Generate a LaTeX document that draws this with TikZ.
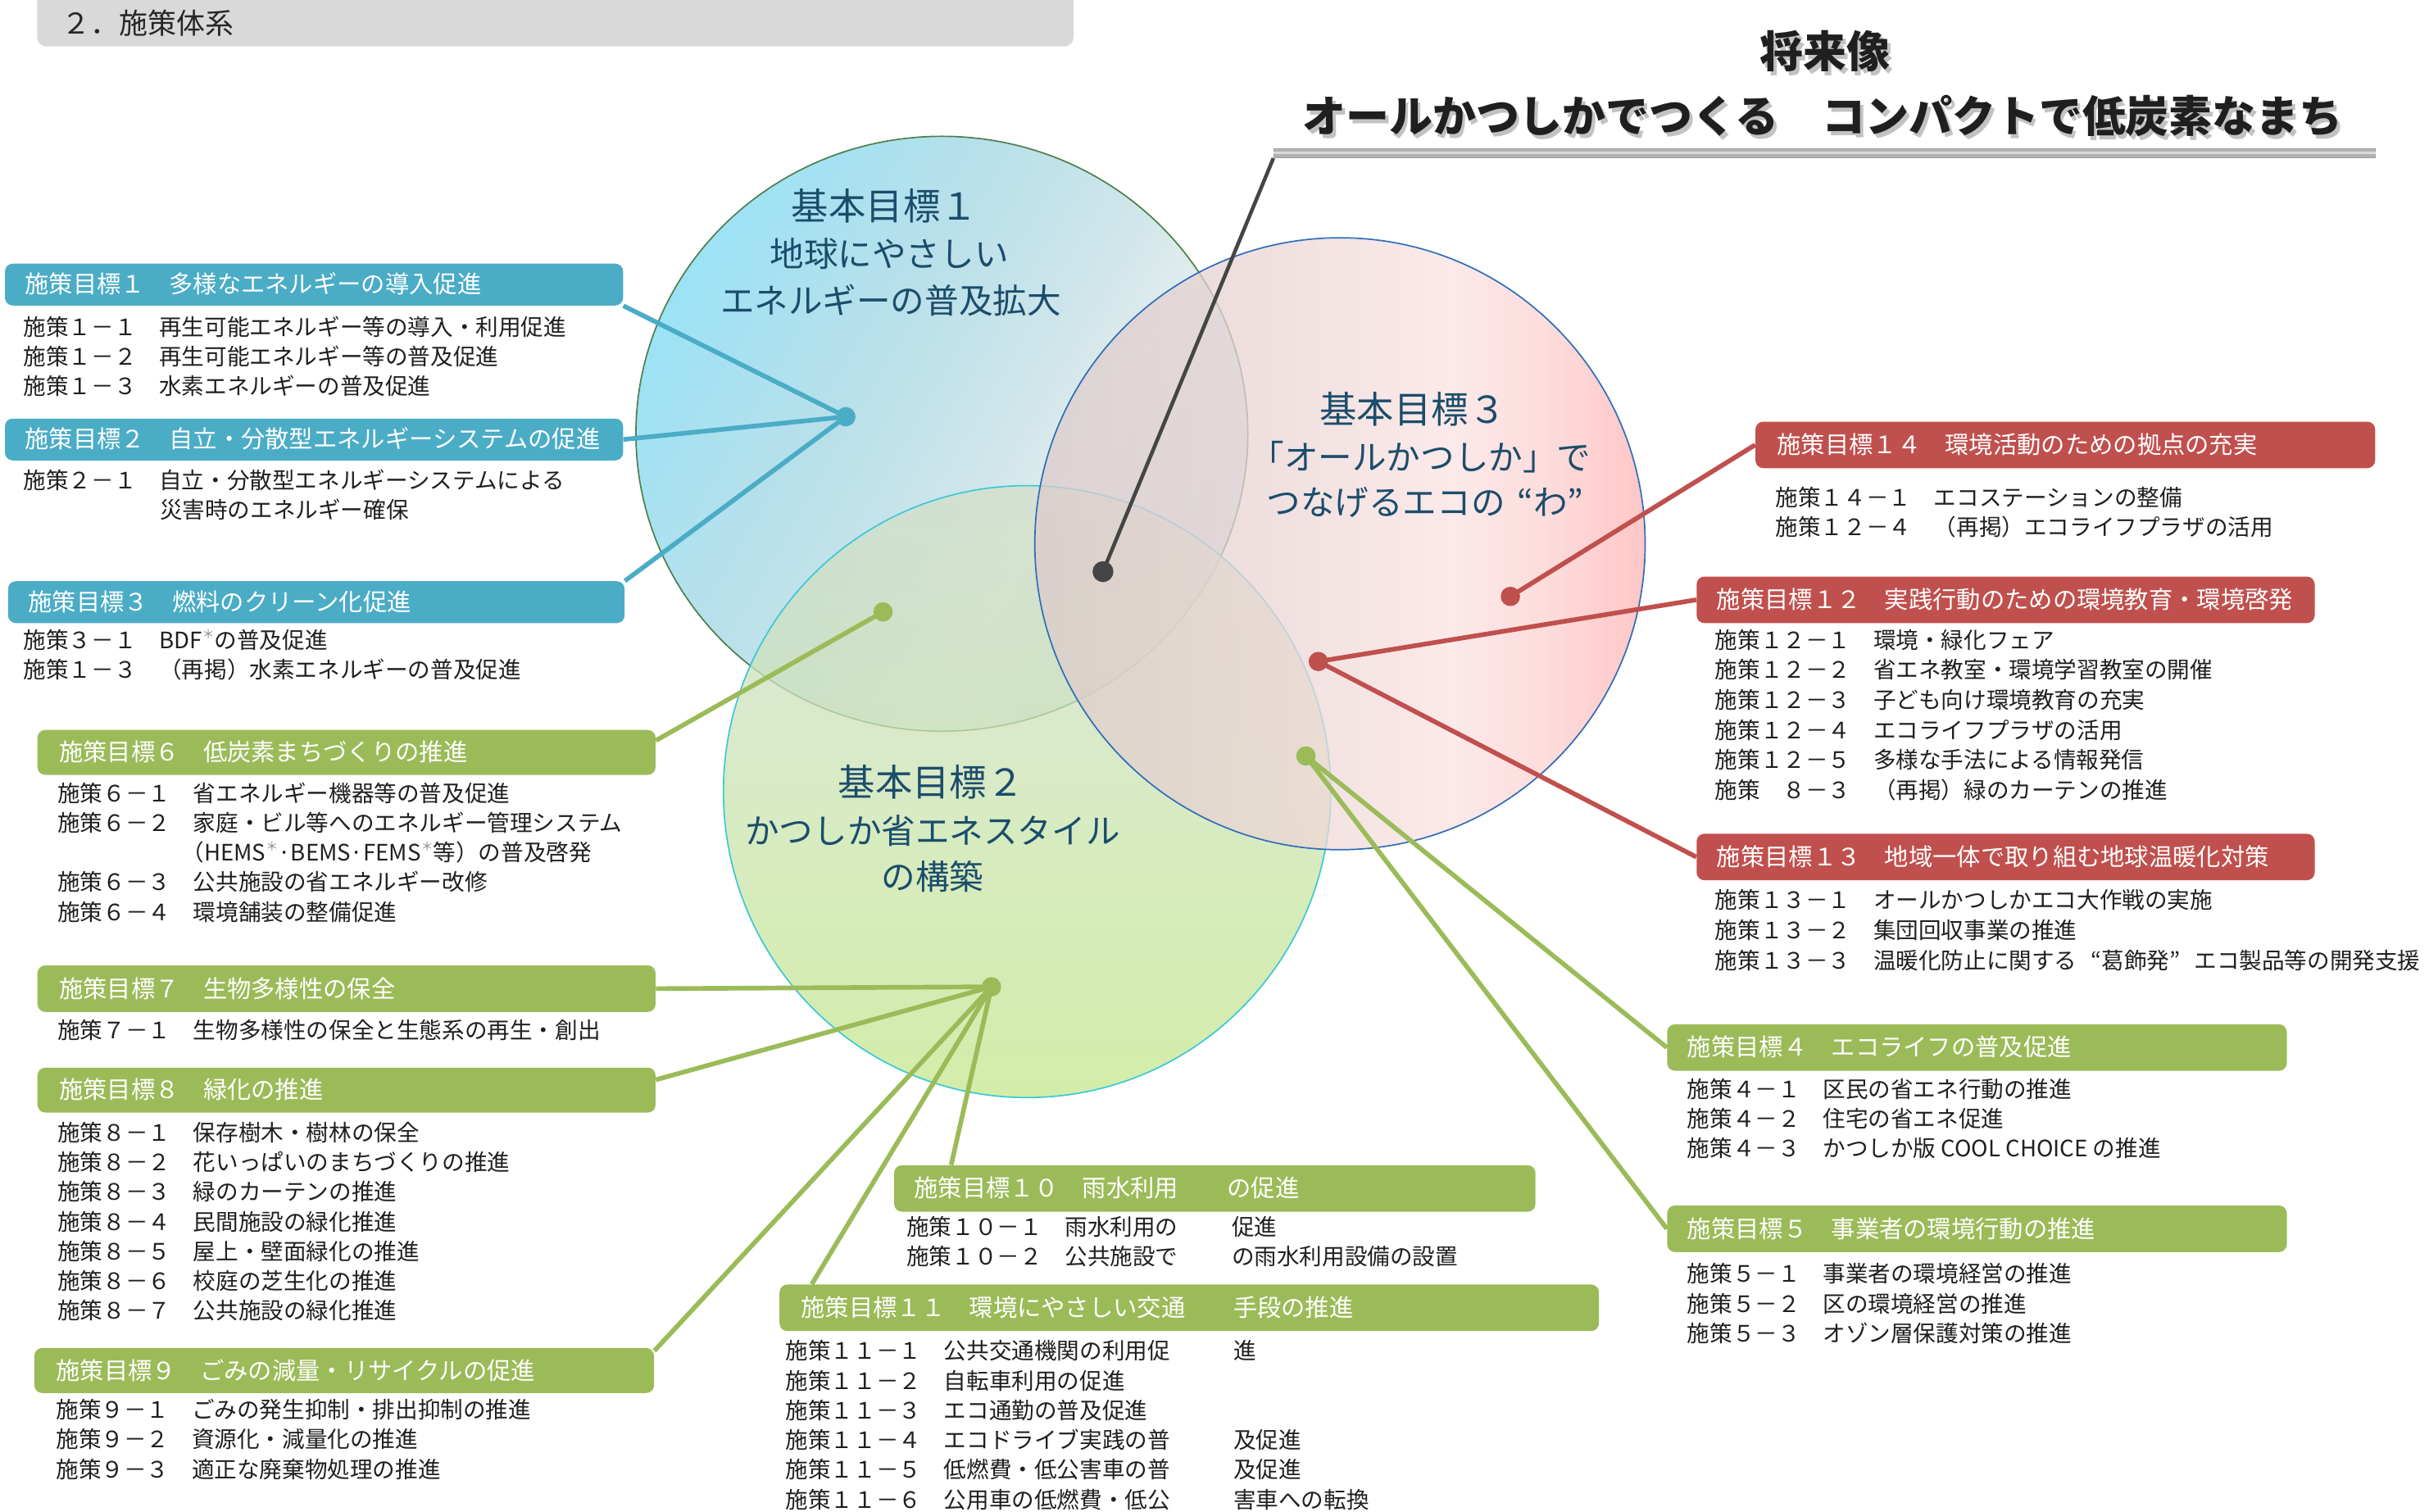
\documentclass[tikz,border=0pt]{standalone}
\usepackage{fontspec}
\setmainfont{Noto Sans CJK JP}
\definecolor{bxblue}{HTML}{4BACC6}
\definecolor{bxgreen}{HTML}{9BBB59}
\definecolor{bxred}{HTML}{C0504D}
\definecolor{hdgray}{HTML}{D9D9D9}
\definecolor{goaltxt}{HTML}{1B4D6B}
\definecolor{c1a}{HTML}{9CE2F5}
\definecolor{c1b}{HTML}{B9E0EA}
\definecolor{c1c}{HTML}{D0E6EA}
\definecolor{c1d}{HTML}{E0ECED}
\definecolor{c1e}{HTML}{CFE3E7}
\definecolor{c2a}{HTML}{D3DFCA}
\definecolor{c2b}{HTML}{CCE3B4}
\definecolor{c2c}{HTML}{C3E78B}
\definecolor{c3a}{HTML}{DCCBCB}
\definecolor{c3b}{HTML}{EAD5D5}
\definecolor{c3c}{HTML}{FBE2E2}
\definecolor{c3d}{HTML}{FDD0D0}
\definecolor{c3e}{HTML}{FFB3B3}
\definecolor{lineA}{HTML}{4F7F4F}
\definecolor{lineB}{HTML}{3CC8D8}
\definecolor{lineC}{HTML}{2F6EBA}
\definecolor{darkln}{HTML}{454545}
\pgfdeclarehorizontalshading{shadeone}{100bp}{color(0bp)=(c1a); color(25bp)=(c1a); color(42bp)=(c1b); color(55bp)=(c1c); color(61bp)=(c1d); color(75bp)=(c1e); color(100bp)=(c1e)}
\pgfdeclareverticalshading{shadetwo}{100bp}{color(0bp)=(c2c); color(25bp)=(c2c); color(52bp)=(c2b); color(75bp)=(c2a); color(100bp)=(c2a)}
\pgfdeclarehorizontalshading{shadethree}{100bp}{color(0bp)=(c3a); color(25bp)=(c3a); color(44bp)=(c3b); color(59bp)=(c3c); color(67bp)=(c3d); color(75bp)=(c3e); color(100bp)=(c3e)}
\newcommand\astx{\raisebox{0.42em}{\fontsize{8}{8}\selectfont\color{black!45}＊}}
\pgfdeclarelayer{circles}
\pgfdeclarelayer{links}
\pgfsetlayers{circles,links,main}
\begin{document}
\begin{tikzpicture}[x=1pt,y=-1pt,
  item/.style={anchor=west, inner sep=0pt, text=black!88, font=\fontsize{14.6}{14.6}\selectfont, text height=12.8pt, text depth=1.8pt},
  btext/.style={anchor=west, inner sep=0pt, text=white, font=\fontsize{15.5}{15.5}\selectfont, text height=13.6pt, text depth=1.9pt},
  gbox/.style={anchor=north west, rounded corners=5pt, inner sep=0pt},
  hub/.style={circle, inner sep=0pt, minimum size=12.5pt},
  lk/.style={line width=3pt},
  goalA/.style={text=goaltxt, inner sep=0pt, font=\fontsize{24}{24}\selectfont},
  goalB/.style={text=goaltxt, inner sep=0pt, font=\fontsize{22}{22}\selectfont},
  ttl/.style={inner sep=0pt, font=\fontsize{28}{28}\selectfont\bfseries},
]
\useasboundingbox (0,0) rectangle (1568,976);

% ---------- circles ----------
\begin{pgfonlayer}{circles}
\shade[shading=shadeone, shading angle=-30] (608,280) ellipse [x radius=197.5pt, y radius=192pt];
\draw[lineA, line width=0.9pt] (608,280) ellipse [x radius=197.5pt, y radius=192pt];
\shade[shading=shadetwo, fill opacity=0.75] (663,511) ellipse [x radius=196pt, y radius=197.5pt];
\draw[lineB, line width=0.9pt] (663,511) ellipse [x radius=196pt, y radius=197.5pt];
\shade[shading=shadethree, fill opacity=0.75] (865,351) ellipse [x radius=197pt, y radius=197.5pt];
\draw[lineC, line width=0.9pt] (865,351) ellipse [x radius=197pt, y radius=197.5pt];
\end{pgfonlayer}

% ---------- header ----------
\fill[hdgray, rounded corners=6pt] (24,-10) rectangle (693,30);
\node[anchor=west, inner sep=0pt, text=black!85, font=\fontsize{18.5}{18.5}\selectfont] (hdr) at (40,15) {２．施策体系};

% ---------- title ----------
\node[ttl, text=black!40, opacity=0.6] (t1s) at (1180,35.5) {将来像};
\node[ttl, text=black!88] (t1) at (1178,33) {将来像};
\node[ttl, text=black!40, opacity=0.6] (t2s) at (1178.5,77.5) {オールかつしかでつくる　コンパクトで低炭素なまち};
\node[ttl, text=black!88] (t2) at (1176.5,75) {オールかつしかでつくる　コンパクトで低炭素なまち};
\node[anchor=north west, inner sep=0pt, minimum width=711pt, minimum height=6pt, fill=black!30, draw=black!38, line width=0.6pt] (tbar) at (822,95.5) {};
\draw[white!85!black, line width=1.6pt] (tbar.west) -- (tbar.east);

% ---------- goal labels ----------
\node[goalA] (k1a) at (571,133) {基本目標１};
\node[goalB] (k1b) at (574,164) {地球にやさしい};
\node[goalB] (k1c) at (575,194) {エネルギーの普及拡大};
\node[goalA] (k3a) at (912,264) {基本目標３};
\node[goalB] (k3b) at (917,295) {「オールかつしか」で};
\node[goalB] (k3c) at (920,324) {つなげるエコの\hspace{8pt}“わ”};
\node[goalA] (k2a) at (601,505) {基本目標２};
\node[goalB] (k2b) at (602,536) {かつしか省エネスタイル};
\node[goalB] (k2c) at (602,566) {の構築};

% ---------- hubs ----------
\node[hub, fill=bxblue] (h1) at (546,269) {};
\node[hub, fill=bxgreen] (h2) at (570,395) {};
\node[hub, fill=bxgreen] (h3) at (640,637) {};
\node[hub, fill=darkln, minimum size=13.5pt] (h0) at (712,369) {};
\node[hub, fill=bxred] (h4) at (975,385) {};
\node[hub, fill=bxred] (h5) at (851,427) {};
\node[hub, fill=bxgreen] (h6) at (843,488) {};

% ---------- boxes ----------
\node[gbox, fill=bxblue, minimum width=399pt, minimum height=27pt] (g1) at (3,170) {};
\node[gbox, fill=bxblue, minimum width=399pt, minimum height=27pt] (g2) at (3,270) {};
\node[gbox, fill=bxblue, minimum width=398pt, minimum height=27pt] (g3) at (5,375) {};
\node[gbox, fill=bxgreen, minimum width=399pt, minimum height=29pt] (g6) at (24,471) {};
\node[gbox, fill=bxgreen, minimum width=399pt, minimum height=30pt] (g7) at (24,623) {};
\node[gbox, fill=bxgreen, minimum width=399pt, minimum height=29pt] (g8) at (24,689) {};
\node[gbox, fill=bxgreen, minimum width=400pt, minimum height=29pt] (g9) at (22,870) {};
\node[gbox, fill=bxgreen, minimum width=414pt, minimum height=30pt] (g10) at (577,752) {};
\node[gbox, fill=bxgreen, minimum width=529pt, minimum height=30pt] (g11) at (503,829) {};
\node[gbox, fill=bxred, minimum width=400pt, minimum height=30pt] (g14) at (1133,272) {};
\node[gbox, fill=bxred, minimum width=399pt, minimum height=30pt] (g12) at (1095,372) {};
\node[gbox, fill=bxred, minimum width=399pt, minimum height=30pt] (g13) at (1095,538) {};
\node[gbox, fill=bxgreen, minimum width=400pt, minimum height=30pt] (g4) at (1076,661) {};
\node[gbox, fill=bxgreen, minimum width=400pt, minimum height=30pt] (g5) at (1076,778) {};

\node[btext] (g1t) at (16,183.5) {施策目標１　多様なエネルギーの導入促進};
\node[btext] (g2t) at (16,283.5) {施策目標２　自立・分散型エネルギーシステムの促進};
\node[btext] (g3t) at (18,388.5) {施策目標３　燃料のクリーン化促進};
\node[btext] (g6t) at (38,485.5) {施策目標６　低炭素まちづくりの推進};
\node[btext] (g7t) at (38,638) {施策目標７　生物多様性の保全};
\node[btext] (g8t) at (38,703.5) {施策目標８　緑化の推進};
\node[btext] (g9t) at (36,884.5) {施策目標９　ごみの減量・リサイクルの促進};
\node[btext] (g10t) at (590,767) {施策目標１０　雨水利用};
\node[btext] (g10u) at (792,767) {の促進};
\node[btext] (g11t) at (517,844) {施策目標１１　環境にやさしい交通};
\node[btext] (g11u) at (796,844) {手段の推進};
\node[btext] (g14t) at (1147,287) {施策目標１４　環境活動のための拠点の充実};
\node[btext] (g12t) at (1108,387) {施策目標１２　実践行動のための環境教育・環境啓発};
\node[btext] (g13t) at (1108,553) {施策目標１３　地域一体で取り組む地球温暖化対策};
\node[btext] (g4t) at (1089,676) {施策目標４　エコライフの普及促進};
\node[btext] (g5t) at (1089,793) {施策目標５　事業者の環境行動の推進};

% ---------- item lists ----------
\foreach \t [count=\n] in {施策１－１　再生可能エネルギー等の導入・利用促進, 施策１－２　再生可能エネルギー等の普及促進, 施策１－３　水素エネルギーの普及促進}
  {\node[item] (a1-\n) at (15,{211+19.2*(\n-1)}) {\t};}
\node[item] (a2-1) at (15,310) {施策２－１　自立・分散型エネルギーシステムによる};
\node[item] (a2-2) at (103,329) {災害時のエネルギー確保};
\node[item] (a3-1) at (15,413) {施策３－１　BDF\astx の普及促進};
\node[item] (a3-2) at (15,432) {施策１－３　（再掲）水素エネルギーの普及促進};
\node[item] (a6-1) at (37,512) {施策６－１　省エネルギー機器等の普及促進};
\node[item] (a6-2) at (37,531) {施策６－２　家庭・ビル等へのエネルギー管理システム};
\node[item] (a6-3) at (117,550) {（HEMS\astx{}·BEMS·FEMS\astx{}等）の普及啓発};
\node[item] (a6-4) at (37,569.5) {施策６－３　公共施設の省エネルギー改修};
\node[item] (a6-5) at (37,589) {施策６－４　環境舗装の整備促進};
\node[item] (a7-1) at (37,665) {施策７－１　生物多様性の保全と生態系の再生・創出};
\foreach \t [count=\n] in {施策８－１　保存樹木・樹林の保全, 施策８－２　花いっぱいのまちづくりの推進, 施策８－３　緑のカーテンの推進, 施策８－４　民間施設の緑化推進, 施策８－５　屋上・壁面緑化の推進, 施策８－６　校庭の芝生化の推進, 施策８－７　公共施設の緑化推進}
  {\node[item] (a8-\n) at (37,{731+19.2*(\n-1)}) {\t};}
\foreach \t [count=\n] in {施策９－１　ごみの発生抑制・排出抑制の推進, 施策９－２　資源化・減量化の推進, 施策９－３　適正な廃棄物処理の推進}
  {\node[item] (a9-\n) at (36,{910+19.2*(\n-1)}) {\t};}
\node[item] (a10-1) at (585,792) {施策１０－１　雨水利用の};
\node[item] (a10-1b) at (795,792) {促進};
\node[item] (a10-2) at (585,811) {施策１０－２　公共施設で};
\node[item] (a10-2b) at (795,811) {の雨水利用設備の設置};
\foreach \t [count=\n] in {施策１１－１　公共交通機関の利用促, 施策１１－２　自転車利用の促進, 施策１１－３　エコ通勤の普及促進, 施策１１－４　エコドライブ実践の普, 施策１１－５　低燃費・低公害車の普, 施策１１－６　公用車の低燃費・低公}
  {\node[item] (a11-\n) at (507,{872+19.2*(\n-1)}) {\t};}
\node[item] (a11-1b) at (796,872) {進};
\node[item] (a11-4b) at (796,929.6) {及促進};
\node[item] (a11-5b) at (796,948.8) {及促進};
\node[item] (a11-6b) at (796,968) {害車への転換};
\node[item] (a14-1) at (1146,321) {施策１４－１　エコステーションの整備};
\node[item] (a14-2) at (1146,340) {施策１２－４　（再掲）エコライフプラザの活用};
\foreach \t [count=\n] in {施策１２－１　環境・緑化フェア, 施策１２－２　省エネ教室・環境学習教室の開催, 施策１２－３　子ども向け環境教育の充実, 施策１２－４　エコライフプラザの活用, 施策１２－５　多様な手法による情報発信, 施策　８－３　（再掲）緑のカーテンの推進}
  {\node[item] (a12-\n) at (1107,{413+19.4*(\n-1)}) {\t};}
\node[item] (a13-1) at (1107,581) {施策１３－１　オールかつしかエコ大作戦の実施};
\node[item] (a13-2) at (1107,600.4) {施策１３－２　集団回収事業の推進};
\node[item] (a13-3) at (1107,619.8) {施策１３－３　温暖化防止に関する\hspace{9pt}“葛飾発”\hspace{9pt}エコ製品等の開発支援};
\foreach \t [count=\n] in {施策４－１　区民の省エネ行動の推進, 施策４－２　住宅の省エネ促進, 施策４－３　かつしか版 COOL CHOICE の推進}
  {\node[item] (a4-\n) at (1089,{703+19*(\n-1)}) {\t};}
\foreach \t [count=\n] in {施策５－１　事業者の環境経営の推進, 施策５－２　区の環境経営の推進, 施策５－３　オゾン層保護対策の推進}
  {\node[item] (a5-\n) at (1089,{822+19.5*(\n-1)}) {\t};}

% ---------- connectors ----------
\begin{pgfonlayer}{links}
\draw[lk, bxblue] (h1.center) -- (g1.south east);
\draw[lk, bxblue] (h1.center) -- (g2.east);
\draw[lk, bxblue] (h1.center) -- (g3.north east);
\draw[lk, bxgreen] (h2.center) -- ([yshift=-7pt]g6.north east);
\draw[lk, bxgreen] (h3.center) -- (g7.east);
\draw[lk, bxgreen] (h3.center) -- ([yshift=-8pt]g8.north east);
\draw[lk, bxgreen] (h3.center) -- ([yshift=-2pt]g9.north east);
\draw[lk, bxgreen] (h3.center) -- ([xshift=37pt]g10.north west);
\draw[lk, bxgreen] (h3.center) -- ([xshift=21pt]g11.north west);
\draw[lk, bxgreen] (h6.center) -- (g4.west);
\draw[lk, bxgreen] (h6.center) -- (g5.west);
\draw[lk, bxred] (h4.center) -- (g14.west);
\draw[lk, bxred] (h5.center) -- (g12.west);
\draw[lk, bxred] (h5.center) -- (g13.west);
\draw[line width=2.4pt, darkln] (h0.center) -- (tbar.south west);
\end{pgfonlayer}
\end{tikzpicture}
\end{document}
